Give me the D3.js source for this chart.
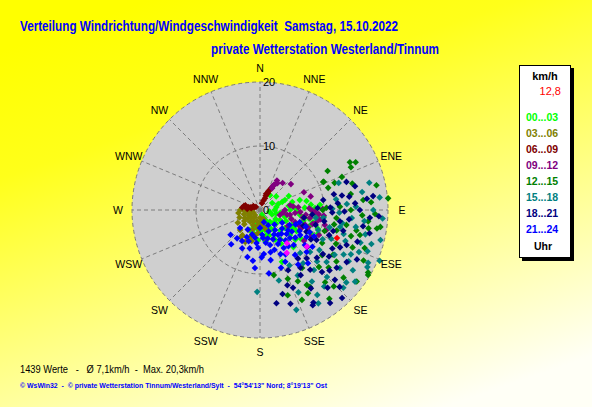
<!DOCTYPE html>
<html>
<head>
<meta charset="utf-8">
<script src="https://cdn.jsdelivr.net/npm/d3@7"></script>
<style>
  body { margin: 0; }
  svg { display: block; font-family: "Liberation Sans", Arial, sans-serif; }
  text { white-space: pre; }
</style>
</head>
<body>
<svg id="chart" width="592" height="407"></svg>
<script>
// wind rose scatter: [direction in degrees, speed in km/h]
const directions = ['N','NNE','NE','ENE','E','ESE','SE','SSE','S','SSW','SW','WSW','W','WNW','NW','NNW'];
const rings = [0, 10, 20];
const hourLabels = ['00...03','03...06','06...09','09...12','12...15','15...18','18...21','21...24'];
const hourColors = ['#00ff00','#808000','#800000','#800080','#008000','#008080','#000080','#0000ff'];

const h00 = [[85,9.4],[76,6.4],[68,4.2],[34,2.8],[158,0.8],[166,3.2],[153,5.2],[130,6.1],[107,8.2],[95,9.1],
  [117,3.5],[97,6.3],[90,2.3],[90,4.7],[87,7.0],[126,4.8],[140,2.4],[207,3.5],[184,4.7],[157,8.8],[70,3.7],
  [76,5.2],[103,8.5],[95,9.0],[100,1.5],[110,2.0],[120,2.8],[130,3.3],[145,3.8],[150,2.0],[170,1.8],[175,2.6],
  [190,2.2],[195,3.8],[135,4.5],[115,5.5],[105,4.0],[98,3.2],[92,5.8],[100,6.8],[110,7.2],[120,6.6],[125,7.8],
  [140,6.4],[145,5.6],[160,4.2],[80,2.6],[82,4.5],[84,8.0],[88,8.6],[100,7.8],[115,8.8],[130,7.2],[60,2.2],
  [50,3.3],[72,3.0],[113,4.4],[105,5.0],[122,5.3],[135,2.9],[150,3.4],[165,4.0],[178,3.3],[200,2.8],[108,9.5],[96,10.0],
  [93,3.8],[102,2.6],[118,6.0],[128,5.8],[104,7.0],[86,5.4],[79,7.4],[112,9.8],[138,7.8],[148,6.2],[170,5.0],
  [188,3.0],[155,1.4],[64,5.0],[90,8.0]];
const h03 = [[270,3.1],[268,2.5],[262,2.0],[255,1.5],[225,1.1],[220,2.4],[186,2.8],[172,2.4],[211,3.6],[191,4.0],
  [242,2.7],[270,1.3],[172,4.4],[205,5.5],[235,3.0],[215,4.8],[200,3.2],[195,1.8],[180,1.2],[230,1.8],[245,1.9],
  [250,3.4],[240,4.0],[225,4.4],[210,2.0],[200,4.5],[185,3.6],[178,2.0],[165,3.0],[160,1.5],[215,5.2],[228,3.3],
  [218,1.4],[205,2.6],[195,5.0],[190,2.5],[236,2.3],[255,2.6],[262,3.4],[248,1.1]];
const h06 = [[284,1.9],[291,1.3],[307,0.8],[284,2.6],[280,2.2],[286,1.6],[278,2.8],[295,1.0],[288,2.4],[282,1.4],
  [16,1.1],[23,2.0],[25,2.9],[27,3.8],[26,3.5],[22,2.4],[24,3.2],[20,1.6],[28,4.0],[21,2.7],[300,1.2],[275,2.0]];
const h09 = [[30,5.3],[40,5.5],[68,7.4],[29,4.5],[28,4.2],[31,4.8],[33,5.0],[29,3.9],[90,3.9],[99,4.75],[93,6.3],
  [99,7.9],[99,9.5],[109,5.8],[108,7.4],[92,8.6],[104,3.2],[103,10.4],[81,4.75],[95,5.5],[100,6.8],[105,8.5],
  [96,7.2],[112,6.6],[86,6.0],[88,7.7],[102,9.0],[95,10.0],[110,8.0],[115,7.0],[106,5.1],[97,3.6],[84,5.2],
  [91,8.2],[118,9.0],[100,4.3],[94,9.2],[107,10.8],[113,10.0],[89,9.8],[120,5.0],[125,8.4],[50,6.3],[75,8.2]];
const h12 = [[63.5,16.7],[64.8,15.7],[66.1,10.9],[84.8,20.1],[84.5,16.2],[87.6,12.5],[99.6,17.2],[104,16.1],
  [121,19.7],[126.5,18.8],[155,15.5],[148,13.8],[168,10.4],[121.5,13.4],[99.8,13.7],[62,15.9],[68,13.8],[66,10.8],
  [96,17.0],[99,18.5],[120,19.5],[147,14.3],[70,12.4],[74,15.0],[78,18.6],[90,14.2],[93,16.0],[101,11.8],
  [106,14.8],[110,17.4],[114,13.0],[118,11.0],[124,14.4],[129,16.8],[134,12.8],[138,15.2],[142,17.6],[152,12.6],
  [158,11.6],[162,14.0],[90,9.8],[96,12.0],[108,10.6],[112,15.6],[102,15.4],[86,17.4],[80,14.4],[72,11.2],
  [116,18.0],[130,14.0],[136,16.6],[144,11.2],[98,19.0],[92,18.0],[105,12.4],[126,12.0],[60,12.2],[88,10.4],[150,15.0]];
const h15 = [[90,17.7],[113,20.3],[116,18.8],[123,17.3],[133,17.8],[97,10.0],[102,12.8],[103,16.9],[71,13.0],
  [182,12.8],[146,16.0],[130,17.6],[141,10.7],[111,18.0],[108,16.5],[89,11.3],[95,14.4],[100,15.2],[106,13.6],
  [112,12.0],[118,14.8],[124,11.2],[128,13.2],[135,14.8],[138,12.6],[144,13.8],[150,11.8],[155,14.2],[160,16.6],
  [120,16.0],[115,10.8],[109,9.6],[98,8.8],[92,12.4],[86,13.6],[80,16.2],[76,17.6],[84,18.8],[94,19.2],[104,19.4],
  [118,19.0],[126,15.4],[132,12.0],[140,15.6],[148,17.2],[104,11.2],[110,14.2],[99,13.0],[88,15.0],[82,12.0],
  [127,18.6],[121,13.6],[116,15.8],[137,9.2],[152,9.8],[165,11.4],[107,18.2],[96,16.4],[113,16.8],[130,10.2]];
const h18 = [[86,14.9],[81.5,14.1],[85,12.2],[81,10.0],[92,11.3],[99,16.3],[115,13.8],[131,14.4],[134,17.3],
  [143,18.2],[151,17.0],[121,15.8],[94,17.2],[76,15.3],[80,13.0],[170,14.8],[165,13.6],[157,13.2],[150,16.7],
  [139,16.1],[145,11.0],[160,12.5],[136,10.5],[135,13.7],[88,9.0],[95,8.2],[100,10.2],[105,9.0],[110,11.5],
  [118,10.0],[125,12.0],[128,9.4],[112,14.6],[104,13.4],[96,14.0],[90,15.6],[102,17.5],[108,16.0],[117,17.0],
  [124,13.0],[140,12.2],[147,14.6],[155,10.4],[130,11.6],[98,12.6],[84,16.8],[78,11.8],[72,14.2],[91,13.2],
  [106,11.9],[120,9.2],[133,16.0],[142,9.6],[162,15.4],[115,8.0],[127,15.0],[88,11.0],[110,7.2],[100,7.0],
  [118,12.8],[148,12.0],[83,17.8],[93,18.6],[137,18.8]];
const h21 = [[219,5.7],[206,4.7],[188,8.0],[185,9.1],[175,6.9],[164,5.7],[146,5.6],[133,6.4],[122,7.4],[128,8.9],
  [142,8.9],[154,9.0],[143,3.9],[152,2.7],[117,5.2],[107,6.5],[175,3.9],[183,5.9],[114,8.5],[228,4.2],[130,4.5],
  [138,5.0],[150,4.4],[158,3.6],[165,4.6],[170,5.2],[160,6.6],[148,7.0],[136,7.6],[124,6.0],[118,7.0],[126,5.4],
  [140,6.2],[155,7.6],[168,8.0],[178,7.4],[195,6.2],[200,5.2],[212,3.6],[190,4.4],[180,2.8],[162,2.0],[135,3.2],
  [120,4.0],[112,6.0],[110,7.6],[132,9.8],[145,10.4],[160,9.6],[172,10.0],[195,7.6],[205,6.6],[220,7.0],[230,6.0],
  [138,11.2],[125,10.0],[144,4.8],[152,6.0],[166,6.8],[174,4.4],[186,5.2],[198,4.0],[210,5.6],[150,8.0],
  [120,8.4],[116,9.4],[156,5.0],[132,5.6],[142,7.2],[128,7.0]];
const lastHour = [[148,7.9],[141,6.7],[128,9.3]];
const current = [[110,12.8]];

const series = [h00, h03, h06, h09, h12, h15, h18, h21];

const svg = d3.select('#chart');
const W = 592, H = 407;
const cx = 260, cy = 210;

// background gradient
const defs = svg.append('defs');
const grad = defs.append('linearGradient').attr('id', 'bg')
  .attr('x1', 0.25).attr('y1', 0).attr('x2', 0.75).attr('y2', 1);
grad.append('stop').attr('offset', 0).attr('stop-color', '#ffff00');
grad.append('stop').attr('offset', 0.25).attr('stop-color', '#ffff1a');
grad.append('stop').attr('offset', 1).attr('stop-color', '#fffff6');
svg.append('rect').attr('width', W).attr('height', H).attr('fill', 'url(#bg)');

const r = d3.scaleLinear().domain([0, 20]).range([0, 128]);
const toXY = (dir, v) => {
  const a = dir * Math.PI / 180;
  return [cx + r(v) * Math.sin(a), cy - r(v) * Math.cos(a)];
};

// polar plot area
const g = svg.append('g');
g.append('circle').attr('cx', cx).attr('cy', cy).attr('r', r(20))
  .attr('fill', '#cfcfcf');

// grid
rings.filter(d => d > 0).forEach(v => {
  g.append('circle').attr('cx', cx).attr('cy', cy).attr('r', r(v))
    .attr('fill', 'none').attr('stroke', '#7c7c7c').attr('stroke-dasharray', '4,3');
});
directions.forEach((d, i) => {
  const [x, y] = toXY(i * 22.5, 20);
  g.append('line').attr('x1', cx).attr('y1', cy).attr('x2', x).attr('y2', y)
    .attr('stroke', '#7c7c7c').attr('stroke-dasharray', '4,3');
});

// compass labels
directions.forEach((d, i) => {
  const [x, y] = toXY(i * 22.5, 22.2);
  svg.append('text').attr('x', x).attr('y', y + 4)
    .attr('text-anchor', 'middle').attr('font-size', 10.5).attr('fill', '#000')
    .text(d);
});

// ring labels
rings.forEach(v => {
  svg.append('text').attr('x', cx + 3).attr('y', cy - r(v) + 4)
    .attr('font-size', 11).attr('fill', '#000').text(v);
});

// points
const marker = 'M0,-3.3L3.3,0L0,3.3L-3.3,0Z';
const drawPoints = (data, color) => {
  g.append('g').selectAll('path').data(data).join('path')
    .attr('d', marker)
    .attr('transform', d => { const [x, y] = toXY(d[0], d[1]); return `translate(${x},${y})`; })
    .attr('fill', color);
};
series.forEach((s, i) => drawPoints(s, hourColors[i]));
drawPoints(lastHour, '#ff00ff');
drawPoints(current, '#ff0000');

// titles
svg.append('text').attr('x', 20).attr('y', 31)
  .attr('font-size', 14).attr('font-weight', 'bold').attr('fill', '#0000ff')
  .attr('textLength', 378).attr('lengthAdjust', 'spacingAndGlyphs')
  .text('Verteilung Windrichtung/Windgeschwindigkeit  Samstag, 15.10.2022');
svg.append('text').attr('x', 211).attr('y', 54)
  .attr('font-size', 14).attr('font-weight', 'bold').attr('fill', '#0000ff')
  .attr('textLength', 228).attr('lengthAdjust', 'spacingAndGlyphs')
  .text('private Wetterstation Westerland/Tinnum');

// legend box
const lg = svg.append('g');
lg.append('rect').attr('x', 522).attr('y', 68).attr('width', 52).attr('height', 193).attr('fill', '#000');
lg.append('rect').attr('x', 519.5).attr('y', 65.5).attr('width', 51).attr('height', 192)
  .attr('fill', '#fff').attr('stroke', '#000');
lg.append('text').attr('x', 545).attr('y', 80).attr('text-anchor', 'middle')
  .attr('font-size', 11).attr('font-weight', 'bold').text('km/h');
lg.append('text').attr('x', 561).attr('y', 95).attr('text-anchor', 'end')
  .attr('font-size', 11).attr('fill', '#ff0000').text(String(current[0][1]).replace('.', ','));
hourLabels.forEach((t, i) => {
  lg.append('text').attr('x', 526).attr('y', 121 + i * 16)
    .attr('font-size', 10.5).attr('font-weight', 'bold').attr('fill', hourColors[i])
    .text(t);
});
lg.append('text').attr('x', 543).attr('y', 250).attr('text-anchor', 'middle')
  .attr('font-size', 10.5).attr('font-weight', 'bold').text('Uhr');

// footer
svg.append('text').attr('x', 20).attr('y', 373).attr('font-size', 11.5)
  .attr('textLength', 184).attr('lengthAdjust', 'spacingAndGlyphs')
  .text('1439 Werte   -   Ø 7,1km/h  -  Max. 20,3km/h');
svg.append('text').attr('x', 20).attr('y', 388).attr('font-size', 8).attr('font-weight', 'bold')
  .attr('fill', '#0000ff')
  .attr('textLength', 307).attr('lengthAdjust', 'spacingAndGlyphs')
  .text('© WsWin32  -  © private Wetterstation Tinnum/Westerland/Sylt  -  54°54\'13" Nord; 8°19\'13" Ost');
</script>
</body>
</html>
